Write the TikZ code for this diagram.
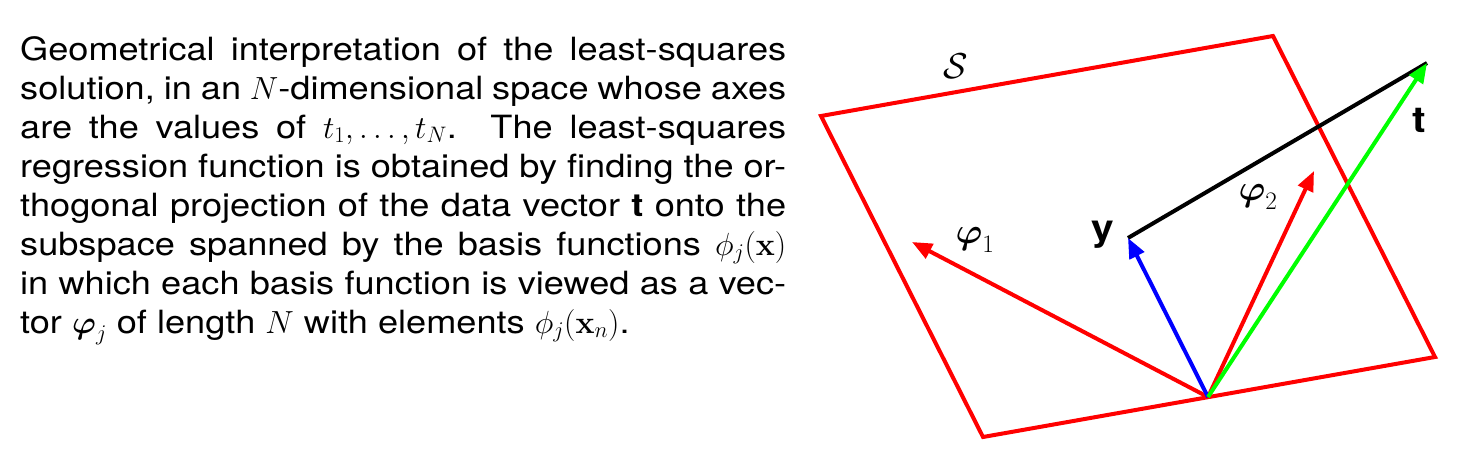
\documentclass[tikz,border=0pt]{standalone}
\usepackage{fix-cm}
\usepackage{amsmath, amssymb}
\usepackage[no-math]{fontspec}
\setmainfont{TeX Gyre Heros}[FakeStretch=1.13]
\usepackage{xcolor}
\usepackage{tikz}
\usetikzlibrary{arrows.meta}
\definecolor{vgreen}{RGB}{0,255,0}

\begin{document}
\begin{tikzpicture}[x=1pt, y=-1pt,
    vec/.style = {line width=4pt, -{Triangle[length=20pt, width=16pt]}},
    plane/.style = {line width=4pt, red, line join=miter},
    lbl/.style = {inner sep=0pt, font=\fontsize{36}{40}\selectfont}]
    \useasboundingbox (0,0) rectangle (1457,471);

    % 说明文字
    \node[anchor=base west, inner sep=0pt, text width=766pt, align=justify,
          font=\fontsize{32}{39}\selectfont] (caption) at (20,60)
    {\hyphenpenalty=10000 Geometrical interpretation of the least-squares\linebreak
     solution, in an $N$-dimensional space whose axes\linebreak
     are the values of $t_1,\ldots,t_N$.\ \ The least-squares\linebreak
     regression function is obtained by finding the or-\linebreak
     thogonal projection of the data vector \textbf{t} onto the\linebreak
     subspace spanned by the basis functions $\phi_j(\mathbf{x})$\linebreak
     in which each basis function is viewed as a vec-\linebreak
     tor $\boldsymbol{\varphi}_j$ of length $N$ with elements $\phi_j(\mathbf{x}_n)$.};

    % 坐标定义
    \coordinate (c1) at (821,116);
    \coordinate (c2) at (1273,36);
    \coordinate (c3) at (1435,357);
    \coordinate (c4) at (983,437);
    \coordinate (o) at (1208,397);
    \coordinate (p1) at (912,242);
    \coordinate (p2) at (1314,171);
    \coordinate (py) at (1128,238);
    \coordinate (pt) at (1427,63);

    % 平面 S
    \draw[plane] (c1) -- (c2) -- (c3) -- (c4) -- cycle;

    % 向量
    \draw[vec, red] (o) -- (p1);
    \draw[vec, red] (o) -- (p2);
    \draw[line width=4pt, black] (py) -- (pt);
    \draw[vec, blue] (o) -- (py);
    \draw[vec, vgreen] (o) -- (pt);

    % 标签
    \node[lbl] (S) at (956,66) {$\mathcal{S}$};
    \node[lbl] (phi1) at (975,240) {$\boldsymbol{\varphi}_1$};
    \node[lbl] (phi2) at (1258,197) {$\boldsymbol{\varphi}_2$};
    \node[lbl] (y) at (1103,235) {\textbf{y}};
    \node[lbl] (t) at (1419,120) {\textbf{t}};
\end{tikzpicture}
\end{document}
